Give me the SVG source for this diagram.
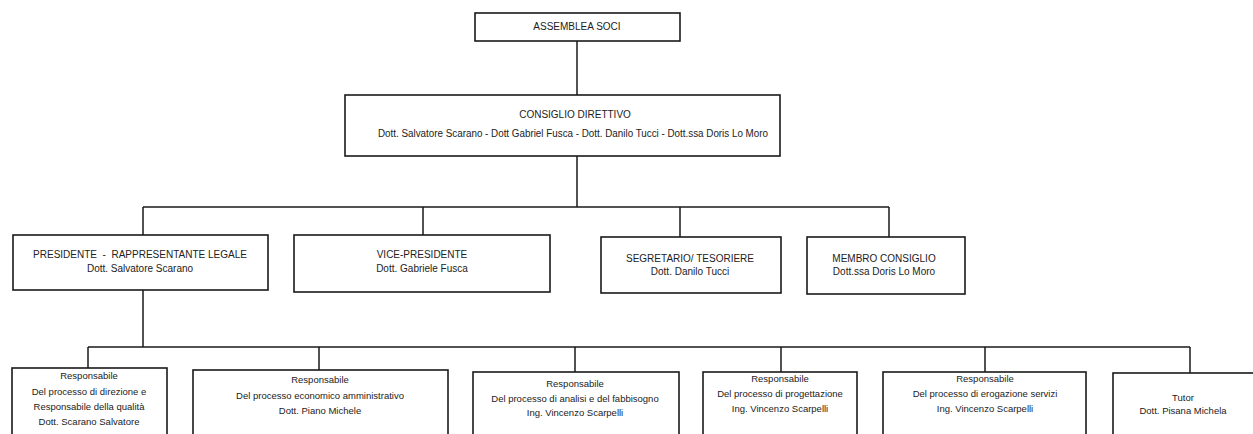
<svg xmlns="http://www.w3.org/2000/svg" width="1253" height="434" viewBox="0 0 1253 434">
<style>
.box{fill:#fff;stroke:#1a1a1a;stroke-width:1.6}
.ln{fill:none;stroke:#1a1a1a;stroke-width:1.5}
text{font-family:"Liberation Sans Narrow","Liberation Sans",Arial,sans-serif;font-size:10px;fill:#222;text-anchor:middle}
.s{font-size:9.5px}
</style>
<rect width="1253" height="434" fill="#fff"/>
<g id="connectors">
<path class="ln" d="M577 41V95"/>
<path class="ln" d="M577 156V207M143 207H889M143 207V235M423 207V235M680 207V237M889 207V237"/>
<path class="ln" d="M143 290V347M88 347H1190M88 347V368M319 347V370M575 347V372M781 347V372M985 347V372M1190 347V373"/>
</g>
<g id="assemblea"><rect class="box" x="475" y="13" width="205" height="28"/><text x="577" y="30">ASSEMBLEA SOCI</text></g>
<g id="consiglio"><rect class="box" x="345" y="95" width="435" height="61"/><text x="575" y="118">CONSIGLIO DIRETTIVO</text><text x="573" y="137" textLength="390" lengthAdjust="spacingAndGlyphs">Dott. Salvatore Scarano - Dott Gabriel Fusca - Dott. Danilo Tucci - Dott.ssa Doris Lo Moro</text></g>
<g id="presidente"><rect class="box" x="13" y="235" width="255" height="55"/><text x="140" y="258" xml:space="preserve">PRESIDENTE  -  RAPPRESENTANTE LEGALE</text><text x="140" y="272">Dott. Salvatore Scarano</text></g>
<g id="vice"><rect class="box" x="294" y="235" width="256" height="57"/><text x="422" y="258">VICE-PRESIDENTE</text><text x="422" y="272">Dott. Gabriele Fusca</text></g>
<g id="segretario"><rect class="box" x="601" y="237" width="180" height="56"/><text x="690" y="262">SEGRETARIO/ TESORIERE</text><text x="690" y="275">Dott. Danilo Tucci</text></g>
<g id="membro"><rect class="box" x="807" y="237" width="158" height="57"/><text x="884" y="262">MEMBRO CONSIGLIO</text><text x="884" y="275">Dott.ssa Doris Lo Moro</text></g>
<g id="resp-direzione"><rect class="box" x="12" y="368" width="155" height="80"/><text class="s" x="89" y="379">Responsabile</text><text class="s" x="89" y="395">Del processo di direzione e</text><text class="s" x="89" y="410">Responsabile della qualità</text><text class="s" x="89" y="425">Dott. Scarano Salvatore</text></g>
<g id="resp-economico"><rect class="box" x="193" y="370" width="255" height="80"/><text class="s" x="320" y="383">Responsabile</text><text class="s" x="320" y="399">Del processo economico amministrativo</text><text class="s" x="320" y="414">Dott. Piano Michele</text></g>
<g id="resp-analisi"><rect class="box" x="473" y="372" width="206" height="80"/><text class="s" x="575" y="387">Responsabile</text><text class="s" x="575" y="402">Del processo di analisi e del fabbisogno</text><text class="s" x="575" y="416">Ing. Vincenzo Scarpelli</text></g>
<g id="resp-progettazione"><rect class="box" x="703" y="372" width="154" height="80"/><text class="s" x="780" y="382">Responsabile</text><text class="s" x="780" y="397">Del processo di progettazione</text><text class="s" x="780" y="412">Ing. Vincenzo Scarpelli</text></g>
<g id="resp-erogazione"><rect class="box" x="883" y="372" width="203" height="80"/><text class="s" x="985" y="382">Responsabile</text><text class="s" x="985" y="397">Del processo di erogazione servizi</text><text class="s" x="985" y="412">Ing. Vincenzo Scarpelli</text></g>
<g id="tutor"><rect class="box" x="1113" y="373" width="150" height="80"/><text class="s" x="1183" y="401">Tutor</text><text class="s" x="1183" y="414">Dott. Pisana Michela</text></g>
</svg>
